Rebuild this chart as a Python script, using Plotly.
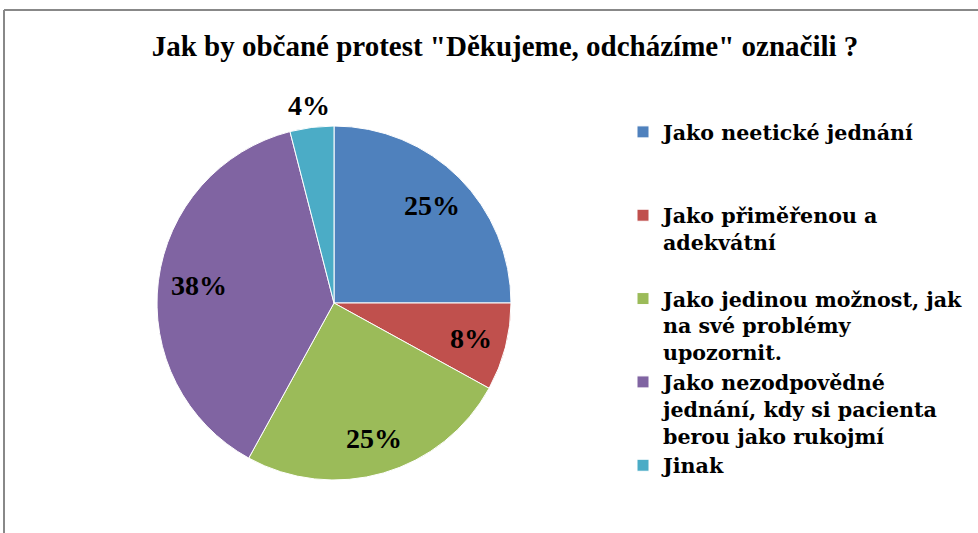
import math
import plotly.graph_objects as go

title_text = 'Jak by občané protest "Děkujeme, odcházíme" označili ?'
categories = [
    "Jako neetické jednání",
    "Jako přiměřenou a<br>adekvátní",
    "Jako jedinou možnost, jak<br>na své problémy<br>upozornit.",
    "Jako nezodpovědné<br>jednání, kdy si pacienta<br>berou jako rukojmí",
    "Jinak",
]
# extra blank lines to mimic the uneven legend spacing of the original
legend_pad = ["<br>\u00a0<br>\u00a0", "<br>\u00a0", "", "", ""]
values = [25, 8, 25, 38, 4]
colors = ["#4F81BD", "#C0504D", "#9BBB59", "#8064A2", "#4BACC6"]
# relative radial distance of each percentage label (inside < 1 < outside)
label_radius = [0.78, 0.80, 0.80, 0.77, 1.125]

W, H = 978, 533
CX, CY, R = 334, 303, 177  # pie centre / radius in pixels
labels = [c + p for c, p in zip(categories, legend_pad)]

fig = go.Figure()
fig.add_trace(go.Pie(
    labels=labels,
    values=values,
    sort=False,
    direction="clockwise",
    rotation=0,
    marker=dict(colors=colors, line=dict(color="white", width=1)),
    textinfo="none",
    hoverinfo="skip",
    domain=dict(x=[(CX - R) / W, (CX + R) / W], y=[1 - (CY + R) / H, 1 - (CY - R) / H]),
))

# percentage labels placed along each slice bisector (derived from the values)
total = sum(values)
annotations = []
cum = 0.0
for v, k in zip(values, label_radius):
    mid = (cum + v / 2) / total
    cum += v
    ang = 2 * math.pi * mid  # clockwise from 12 o'clock
    px = CX + k * R * math.sin(ang)
    py = CY - k * R * math.cos(ang)
    annotations.append(dict(
        x=px / W, y=1 - py / H, xref="paper", yref="paper",
        text=f"{round(100 * v / total)}%", showarrow=False,
        xanchor="center", yanchor="middle",
        font=dict(family="Liberation Serif", size=28, color="black", weight="bold"),
    ))

fig.update_layout(
    width=W, height=H,
    margin=dict(l=0, r=0, t=0, b=0),
    paper_bgcolor="white",
    plot_bgcolor="white",
    title=dict(
        text=title_text,
        x=505 / W, xanchor="center",
        y=1 - 46 / H, yanchor="middle",
        font=dict(family="Liberation Serif", size=29, color="black", weight="bold"),
    ),
    legend=dict(
        x=623 / W, xanchor="left",
        y=1 - 112 / H, yanchor="top",
        valign="top",
        font=dict(family="DejaVu Serif", size=20.6, color="black", weight="bold"),
        bgcolor="rgba(0,0,0,0)",
    ),
    showlegend=True,
    annotations=annotations,
    shapes=[
        dict(type="line", xref="paper", yref="paper", x0=4 / W, x1=1, y0=1 - 10 / H, y1=1 - 10 / H,
             line=dict(color="#888888", width=2)),
        dict(type="line", xref="paper", yref="paper", x0=4 / W, x1=4 / W, y0=0, y1=1 - 10 / H,
             line=dict(color="#888888", width=2)),
    ],
)

fig.write_html(
    "out.html",
    config={"displayModeBar": False},
    post_script="document.body.style.margin='0';document.body.style.overflow='hidden';",
)
